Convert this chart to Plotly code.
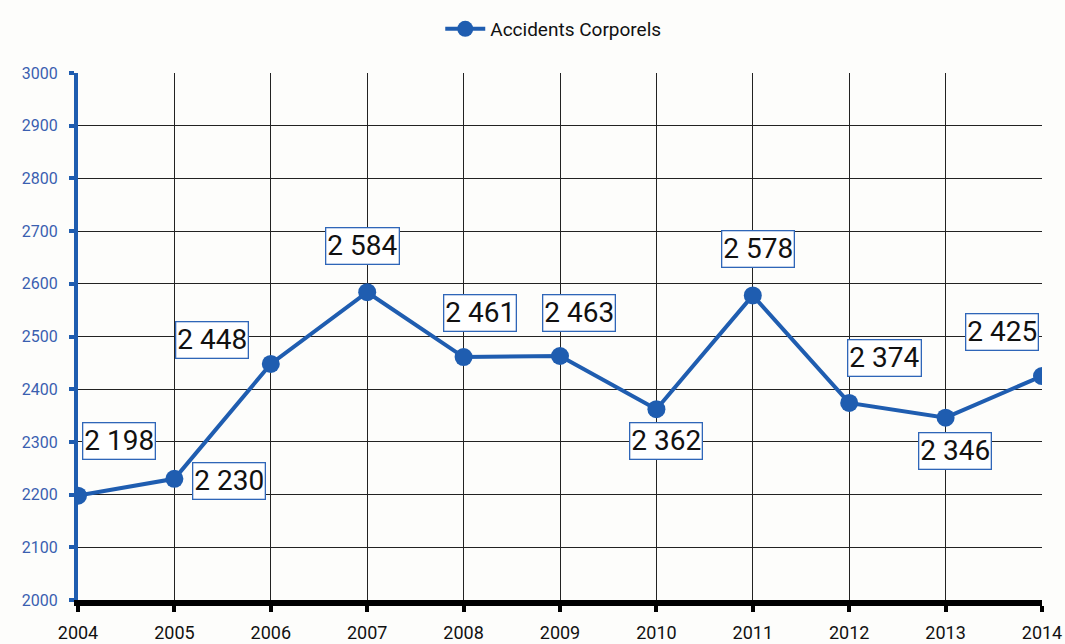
import plotly.graph_objects as go

years = [2004, 2005, 2006, 2007, 2008, 2009, 2010, 2011, 2012, 2013, 2014]
accidents = [2198, 2230, 2448, 2584, 2461, 2463, 2362, 2578, 2374, 2346, 2425]
labels = ["2 198", "2 230", "2 448", "2 584", "2 461", "2 463", "2 362", "2 578", "2 374", "2 346", "2 425"]
label_dx = [41, 55, -59, -5, 16, 19, 10, 5, 35, 9, -40]
label_dy = [-55, 2, -24, -46, -44, -43, 32, -46, -45, 33, -44]
y_ticks = [2000, 2100, 2200, 2300, 2400, 2500, 2600, 2700, 2800, 2900, 3000]

FONT = "Roboto, Lato, sans-serif"
BLUE = "#1f5db0"

fig = go.Figure()
fig.add_trace(go.Scatter(
    x=years, y=accidents, mode="lines+markers", name="Accidents Corporels",
    line=dict(color=BLUE, width=4),
    marker=dict(color=BLUE, size=18),
))

for x, y, t, dx, dy in zip(years, accidents, labels, label_dx, label_dy):
    fig.add_annotation(
        x=x, y=y, text=t, showarrow=True, arrowcolor="rgba(0,0,0,0)",
        ax=dx, ay=dy, xanchor="center", yanchor="middle",
        font=dict(family=FONT, size=28, color="#111111"),
        bgcolor="white", bordercolor="#2f66b8", borderwidth=1.3, borderpad=1,
    )

fig.update_layout(
    width=1065, height=644,
    margin=dict(l=78, r=23, t=73, b=44, autoexpand=False),
    paper_bgcolor="#fdfdfb", plot_bgcolor="#fdfdfb",
    showlegend=True,
    legend=dict(orientation="h", x=0.493, xanchor="center", yref="container", y=0.955, yanchor="middle",
                itemwidth=40,
                font=dict(family=FONT, size=19, color="#111111"), bgcolor="rgba(0,0,0,0)"),
    font=dict(family=FONT),
)
fig.update_xaxes(
    range=[2004, 2014], tickvals=years, ticktext=[str(y) for y in years],
    showgrid=True, gridcolor="#222222", gridwidth=1,
    showline=True, linecolor="#000000", linewidth=6,
    ticks="outside", ticklen=6, tickwidth=4, tickcolor="#000000",
    ticklabelstandoff=5, automargin=False,
    tickfont=dict(family=FONT, size=18, color="#111111"),
    zeroline=False, mirror=False,
)
fig.update_yaxes(
    range=[2000, 3000], tickvals=y_ticks, ticktext=[str(v) for v in y_ticks],
    showgrid=True, gridcolor="#222222", gridwidth=1,
    showline=True, linecolor=BLUE, linewidth=4,
    ticks="outside", ticklen=5, tickwidth=4, tickcolor=BLUE,
    ticklabelstandoff=8, automargin=False,
    tickfont=dict(family=FONT, size=16, color="#3a5fb0"),
    zeroline=False,
)

fig.write_html("out.html", config={"displayModeBar": False},
               post_script="document.body.style.margin='0';")
